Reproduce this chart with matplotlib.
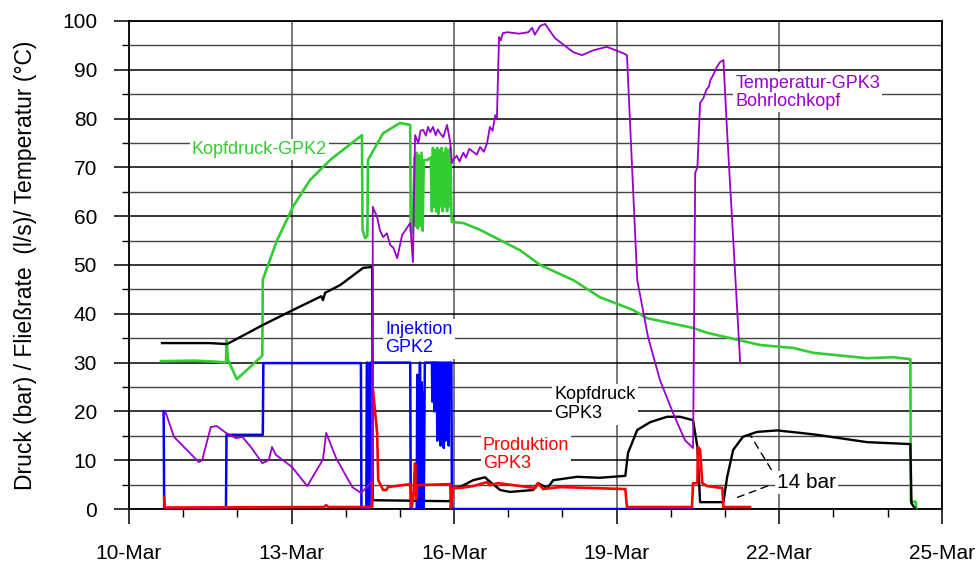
import matplotlib
matplotlib.use("Agg")
import matplotlib.pyplot as plt
import numpy as np

plt.rcParams['font.family'] = ['Liberation Sans', 'DejaVu Sans']

# x = day of March (10.0 = 10-Mar 00:00), y = bar / l/s / degC

# Kopfdruck GPK2 (green)
kopf2_t = [10.59, 11.2, 11.6, 11.79, 11.80, 11.83, 11.99, 12.46, 12.47, 12.73, 13.03, 13.34,
           13.71, 14.02, 14.30, 14.31, 14.36, 14.40, 14.41, 14.69, 15.00, 15.19, 15.20, 15.22,
           15.24, 15.27, 15.29, 15.31, 15.33, 15.35, 15.37, 15.40, 15.42, 15.44, 15.50, 15.57,
           15.59, 15.61, 15.63, 15.65, 15.67, 15.69, 15.71, 15.73, 15.75, 15.77, 15.79, 15.81,
           15.83, 15.85, 15.87, 15.89, 15.91, 15.93, 15.95, 15.96, 16.17, 16.48, 17.22, 17.59,
           18.20, 18.69, 19.30, 19.56, 20.41, 20.67, 21.65, 22.26, 22.63, 23.62, 24.10, 24.42,
           24.43, 24.52, 24.53]
kopf2_v = [30.3, 30.4, 30.2, 30.0, 34.6, 30.5, 26.6, 31.4, 47.0, 55.0, 62.0, 67.4,
           71.5, 74.2, 76.6, 57.2, 55.5, 56.0, 71.5, 77.0, 79.1, 78.7, 57.0, 56.5,
           59.0, 72.0, 58.0, 73.0, 57.5, 72.5, 58.0, 73.0, 57.0, 71.5, 71.5, 72.0,
           61.0, 74.0, 62.0, 73.5, 61.0, 74.0, 60.5, 73.5, 62.0, 74.0, 61.0, 73.0,
           62.0, 74.0, 61.0, 73.5, 62.0, 74.0, 61.0, 58.8, 58.6, 57.2, 53.0, 50.0,
           46.9, 43.4, 40.8, 39.1, 37.1, 36.1, 33.6, 33.0, 32.0, 30.9, 31.1, 30.7,
           1.5, 1.5, 0.0]

# Kopfdruck GPK3 (black)
kopf3_t = [10.61, 11.48, 11.81, 12.47, 13.03, 13.55, 13.58, 13.62, 13.90, 14.32, 14.49,
           14.50, 15.93, 15.98, 16.11, 16.35, 16.57, 16.63, 16.85, 17.03, 17.46, 17.55,
           17.72, 17.83, 18.27, 18.69, 19.16, 19.21, 19.38, 19.62, 19.93, 20.17, 20.41,
           20.49, 20.54, 20.97, 21.04, 21.15, 21.33, 21.59, 21.96, 22.39, 22.70, 23.62,
           24.42, 24.44, 24.51]
kopf3_v = [34.0, 34.0, 33.8, 37.7, 40.8, 43.6, 42.8, 44.3, 45.9, 49.4, 49.6,
           1.8, 1.6, 4.3, 4.5, 5.9, 6.5, 5.9, 3.9, 3.5, 3.9, 5.3,
           4.3, 5.9, 6.6, 6.4, 6.8, 11.5, 16.2, 17.8, 18.9, 18.9, 18.2,
           12.7, 1.4, 1.4, 6.6, 12.1, 14.8, 15.8, 16.1, 15.6, 15.2, 13.7,
           13.3, 1.2, 0.0]

# Injektion GPK2 (blue)
inj_t = [10.64, 10.65, 11.79, 11.80, 12.47, 12.48, 14.28, 14.29, 14.38, 14.39, 14.40,
         14.41, 14.44, 14.45, 15.19, 15.20, 15.31, 15.32, 15.33, 15.35, 15.36, 15.37,
         15.38, 15.40, 15.41, 15.43, 15.44, 15.46, 15.59, 15.60, 15.61, 15.63, 15.64,
         15.65, 15.68, 15.69, 15.70, 15.72, 15.73, 15.75, 15.76, 15.78, 15.79, 15.81,
         15.82, 15.84, 15.85, 15.87, 15.88, 15.90, 15.91, 15.95, 15.96, 20.41]
inj_v = [20.0, 0.0, 0.0, 15.2, 15.2, 29.9, 29.9, 0.0, 0.0, 30.0, 30.0,
         0.0, 0.0, 30.0, 30.0, 0.0, 0.0, 27.5, 0.0, 25.0, 0.0, 30.0,
         0.0, 26.0, 0.0, 24.0, 0.0, 30.0, 30.0, 22.0, 30.0, 30.0, 20.0,
         30.0, 30.0, 14.0, 30.0, 17.0, 30.0, 13.0, 30.0, 19.0, 30.0, 12.5,
         30.0, 14.0, 30.0, 17.0, 30.0, 13.0, 30.0, 30.0, 0.0, 0.0]

# Produktion GPK3 (red)
prod_t = [10.65, 10.66, 13.60, 13.64, 13.68, 14.45, 14.49, 14.50, 14.58, 14.60, 14.69,
          14.75, 14.78, 15.19, 15.22, 15.25, 15.28, 15.30, 15.32, 15.93, 15.94, 15.98,
          16.11, 16.35, 16.61, 16.66, 16.81, 17.50, 17.55, 17.64, 17.96, 19.12, 19.16,
          19.19, 20.39, 20.41, 20.49, 20.50, 20.54, 20.58, 20.67, 20.95, 20.97, 21.46]
prod_v = [2.5, 0.3, 0.4, 0.8, 0.4, 0.4, 0.5, 24.8, 15.5, 5.9, 3.9,
          3.9, 4.5, 5.1, 0.4, 3.0, 9.4, 2.0, 4.9, 5.1, 0.2, 4.3,
          4.3, 4.7, 5.5, 4.9, 5.3, 4.3, 5.3, 4.1, 4.5, 4.1, 4.1,
          0.4, 0.4, 5.3, 5.3, 12.7, 12.1, 5.3, 4.7, 4.3, 0.4, 0.4]

# Temperatur GPK3 Bohrlochkopf (purple)
temp_t = [10.63, 10.68, 10.83, 10.98, 11.29, 11.35, 11.51, 11.62, 11.79, 11.98, 12.09,
          12.25, 12.46, 12.58, 12.64, 12.71, 13.01, 13.29, 13.54, 13.58, 13.64, 13.82,
          14.12, 14.28, 14.43, 14.49, 14.50, 14.58, 14.63, 14.69, 14.76, 14.82, 14.88,
          14.95, 15.04, 15.13, 15.19, 15.24, 15.28, 15.34, 15.38, 15.43, 15.48, 15.52,
          15.56, 15.61, 15.66, 15.70, 15.74, 15.80, 15.87, 15.93, 15.96, 15.98, 16.05,
          16.10, 16.17, 16.22, 16.28, 16.35, 16.42, 16.48, 16.55, 16.61, 16.66, 16.71,
          16.76, 16.79, 16.83, 16.86, 16.90, 16.98, 17.20, 17.37, 17.44, 17.49, 17.59,
          17.68, 17.86, 18.20, 18.36, 18.57, 18.82, 19.12, 19.19, 19.38, 19.58, 19.80,
          20.04, 20.26, 20.41, 20.45, 20.49, 20.54, 20.60, 20.66, 20.70, 20.73, 20.78,
          20.85, 20.91, 20.97, 21.04, 21.28]
temp_v = [19.3, 19.7, 14.8, 13.1, 9.6, 10.0, 16.8, 17.0, 15.6, 14.5, 14.8,
          12.7, 9.4, 10.0, 12.7, 11.1, 8.6, 4.7, 9.4, 10.2, 15.6, 10.5,
          4.5, 3.3, 4.9, 6.0, 61.9, 59.8, 57.2, 55.7, 56.5, 54.1, 53.5,
          51.4, 56.1, 57.6, 58.6, 50.6, 76.6, 75.0, 77.5, 77.7, 76.5, 78.3,
          77.2, 78.3, 76.6, 77.8, 77.0, 76.2, 78.7, 75.0, 70.9, 71.5, 72.4,
          71.2, 73.0, 72.0, 73.8, 73.2, 72.6, 74.2, 73.2, 75.0, 78.3, 77.5,
          80.7, 80.1, 96.7, 96.0, 97.5, 97.7, 97.4, 97.7, 98.6, 97.2, 99.0,
          99.4, 96.5, 93.6, 93.0, 94.0, 94.7, 93.4, 93.0, 46.9, 35.2, 26.4,
          19.7, 14.1, 12.5, 68.9, 70.0, 83.2, 84.2, 86.0, 86.5, 87.9, 88.9,
          90.6, 91.6, 92.0, 77.0, 29.9]

x_ticks = [10, 13, 16, 19, 22, 25]
x_labels = ['10-Mar', '13-Mar', '16-Mar', '19-Mar', '22-Mar', '25-Mar']

fig = plt.figure(figsize=(9.8, 5.64), dpi=100)
ax = fig.add_axes([0.1316, 0.0975, 0.8294, 0.8653])

green = '#33CC33'
purple = '#9900CC'

ax.plot(kopf2_t, kopf2_v, color=green, lw=1.9, zorder=3)
ax.plot(kopf3_t, kopf3_v, color='black', lw=1.7, zorder=3)
ax.plot(inj_t, inj_v, color='#0000FF', lw=1.8, zorder=3)
ax.plot(prod_t, prod_v, color='#FF0000', lw=1.9, zorder=3)
ax.plot(temp_t, temp_v, color=purple, lw=1.3, zorder=3)

ax.set_xlim(10, 25)
ax.set_ylim(0, 100)
ax.set_xticks(x_ticks)
ax.set_xticklabels(x_labels)
ax.set_xticks(np.arange(10, 26, 1), minor=True)
ax.set_yticks(np.arange(0, 101, 10))
ax.set_yticks(np.arange(5, 100, 10), minor=True)

ax.grid(axis='y', which='major', color='black', lw=1.1, zorder=1)
ax.grid(axis='y', which='minor', color='#444444', lw=1.0, zorder=1)
ax.grid(axis='x', which='major', color='#555555', lw=1.1, zorder=1)

ax.tick_params(axis='both', which='major', labelsize=15, length=11, width=1.1, direction='out')
ax.tick_params(axis='y', which='minor', length=5, width=1.0, direction='out')
ax.tick_params(axis='x', which='minor', length=6, width=1.0, direction='out')
ax.tick_params(axis='x', which='major', pad=14)
ax.tick_params(axis='y', which='major', pad=12)
for s in ax.spines.values():
    s.set_linewidth(1.3)

ax.set_ylabel('Druck (bar) / Fließrate  (l/s)/ Temperatur (°C)', fontsize=16.5)
ax.yaxis.set_label_coords(-0.113, 0.5)

box = dict(facecolor='white', edgecolor='none', pad=1.5)
fs = 13
ax.text(11.16, 73.6, 'Kopfdruck-GPK2', color=green, fontsize=fs, va='center', ha='left', bbox=box, zorder=4)
ax.text(21.19, 85.4, 'Temperatur-GPK3\nBohrlochkopf', color=purple, fontsize=fs, va='center', ha='left',
        linespacing=1.1, bbox=box, zorder=4)
ax.text(14.73, 34.9, 'Injektion\nGPK2', color='#0000FF', fontsize=fs, va='center', ha='left',
        linespacing=1.1, bbox=box, zorder=4)
ax.text(17.85, 21.5, 'Kopfdruck\nGPK3', color='black', fontsize=fs, va='center', ha='left',
        linespacing=1.2, bbox=box, zorder=4)
ax.text(16.53, 11.1, 'Produktion\nGPK3', color='#FF0000', fontsize=fs, va='center', ha='left',
        linespacing=1.1, bbox=box, zorder=4)
ax.text(21.96, 5.5, '14 bar', color='black', fontsize=15, va='center', ha='left', bbox=box, zorder=4)

dash = dict(arrowstyle='-', linestyle=(0, (5, 4)), color='black', lw=1.0)
ax.annotate('', xy=(21.43, 15.8), xytext=(21.88, 7.6), arrowprops=dash, zorder=4)
ax.annotate('', xy=(21.09, 1.8), xytext=(21.83, 4.9), arrowprops=dash, zorder=4)

fig.savefig('out.png', dpi=100)
